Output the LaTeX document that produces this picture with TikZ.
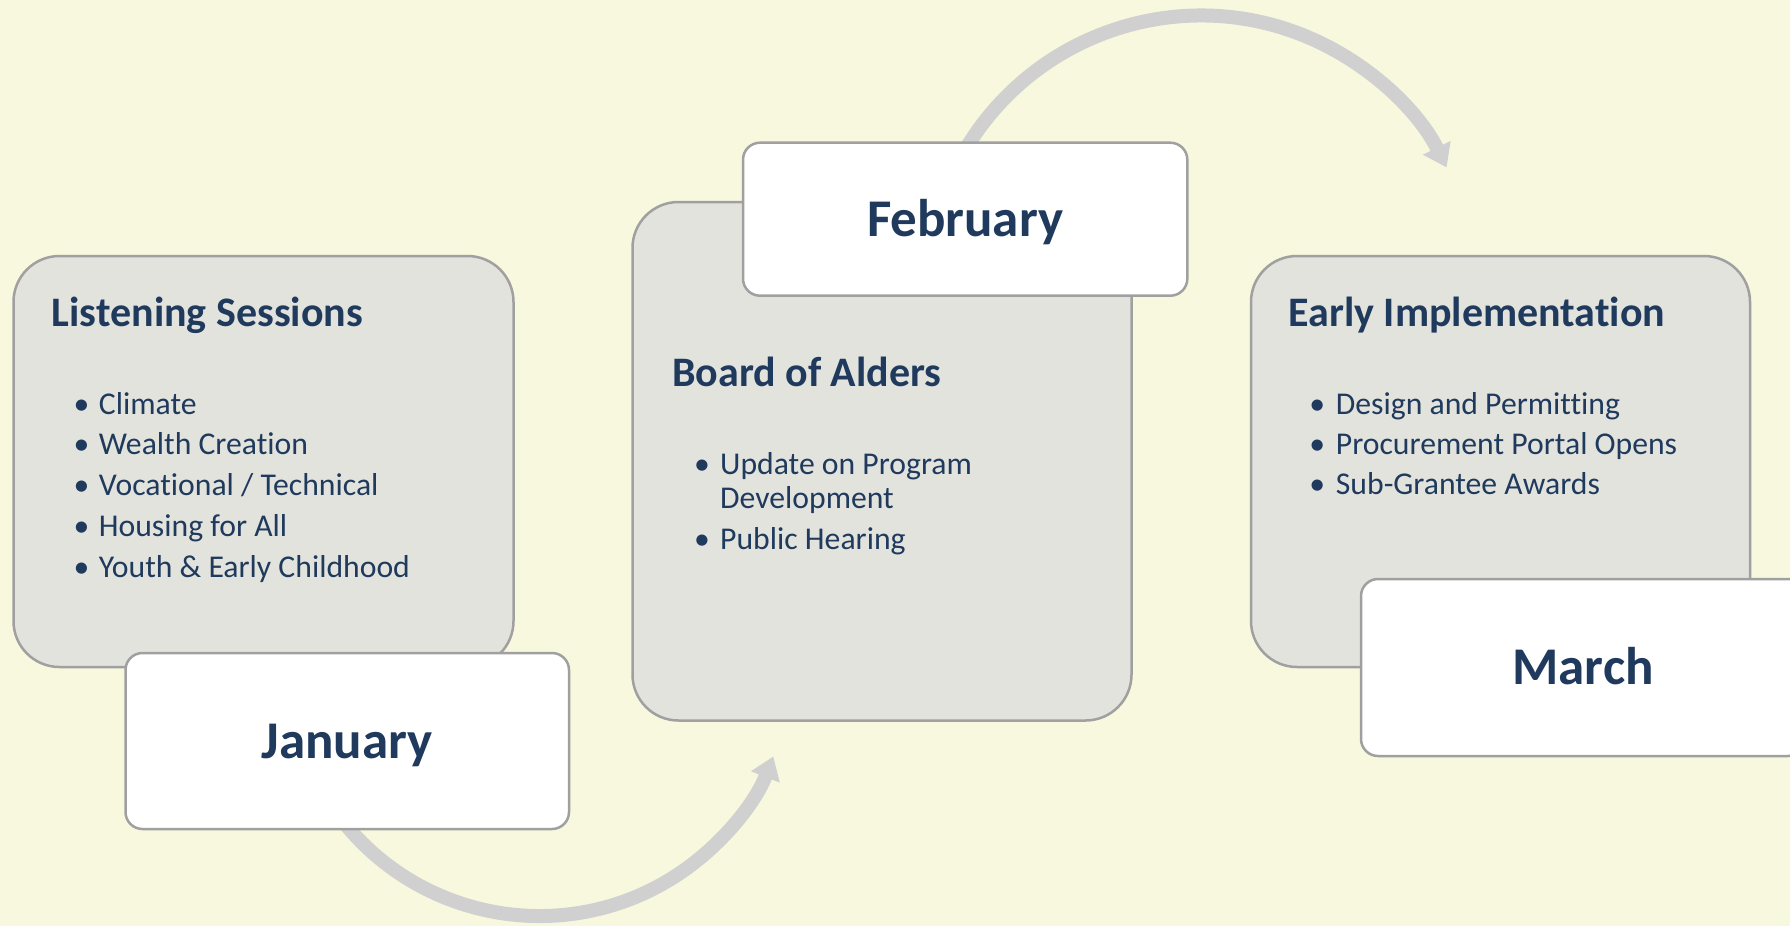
\documentclass[tikz,border=0pt]{standalone}
\usepackage{fontspec}
\setmainfont{Carlito}[Ligatures={NoCommon,NoContextual},RawFeature={-liga;-clig;-calt;-dlig}]
\usetikzlibrary{arrows.meta}
\definecolor{bgc}{HTML}{F8F8DF}
\definecolor{panelc}{HTML}{E3E3DE}
\definecolor{edgec}{HTML}{A0A0A0}
\definecolor{arrowc}{HTML}{D0D0D0}
\definecolor{textc}{HTML}{1F3A5C}
\begin{document}
\begin{tikzpicture}[x=1pt,y=-1pt,
  panel/.style={draw=edgec, line width=2.5pt, fill=panelc, rounded corners=46pt, inner sep=0pt},
  month/.style={draw=edgec, line width=2.5pt, fill=white, rounded corners=17pt, inner sep=0pt,
    text=textc, font=\fontsize{53}{60}\selectfont\bfseries, text height=34pt, text depth=0pt},
  title/.style={anchor=base west, inner sep=0pt, text=textc, font=\fontsize{42}{50}\selectfont\bfseries},
  item/.style={anchor=base west, inner sep=0pt, text=textc, font=\fontsize{31.7}{38}\selectfont},
  dot/.style={anchor=base, inner sep=0pt, text=textc, font=\fontsize{31.7}{38}\selectfont},
  flow/.style={draw=arrowc, line width=14pt, -{Triangle[width=29.5pt,length=22pt]}}
]
\useasboundingbox (0,0) rectangle (1790,926);
\fill[bgc] (0,0) rectangle (1790,926);

% curved arrows (drawn first, their starts hidden under the month boxes)
\coordinate (a1s) at (333.7,808.9);
\coordinate (a2s) at (952.5,173.9);
\draw[flow] (a1s) arc[start angle=145, end angle=21.4, radius=251.2];
\draw[flow] (a2s) arc[start angle=-155, end angle=-26.5, radius=274.3];

% January
\node[panel, minimum width=500pt, minimum height=411pt] (ls) at (263.5,461.5) {};
\node[title] (lst) at (51.7,326.7) {Listening Sessions};
\foreach \t [count=\i] in {Climate, Wealth Creation, Vocational / Technical, Housing for All, Youth \& Early Childhood} {
  \node[dot] (lsd\i) at (81.5,{414+40.9*(\i-1)}) {•};
  \node[item] (lsi\i) at (98.7,{414+40.9*(\i-1)}) {\t};
}
\node[month, minimum width=443.5pt, minimum height=176pt] (jan) at (347.25,741) {January};

% February
\node[panel, minimum width=499pt, minimum height=518.5pt] (ba) at (882,461.25) {};
\node[title] (bat) at (672,386.4) {Board of Alders};
\node[dot] (bad1) at (702,474.4) {•};
\node[item] (bai1) at (720,474.4) {Update on Program};
\node[item] (bai1b) at (720,508.9) {Development};
\node[dot] (bad2) at (702,549.8) {•};
\node[item] (bai2) at (720,549.8) {Public Hearing};
\node[month, minimum width=444.3pt, minimum height=153pt] (feb) at (965.15,219.2) {February};

% March
\node[panel, minimum width=499pt, minimum height=411pt] (ei) at (1500.5,461.5) {};
\node[title] (eit) at (1288.3,326.7) {Early Implementation};
\foreach \t [count=\i] in {Design and Permitting, Procurement Portal Opens, Sub-Grantee Awards} {
  \node[dot] (eid\i) at (1317.3,{414+40.3*(\i-1)}) {•};
  \node[item] (eii\i) at (1335.7,{414+40.3*(\i-1)}) {\t};
}
\node[month, minimum width=444pt, minimum height=177pt] (mar) at (1583,667.5) {March};
\end{tikzpicture}
\end{document}
